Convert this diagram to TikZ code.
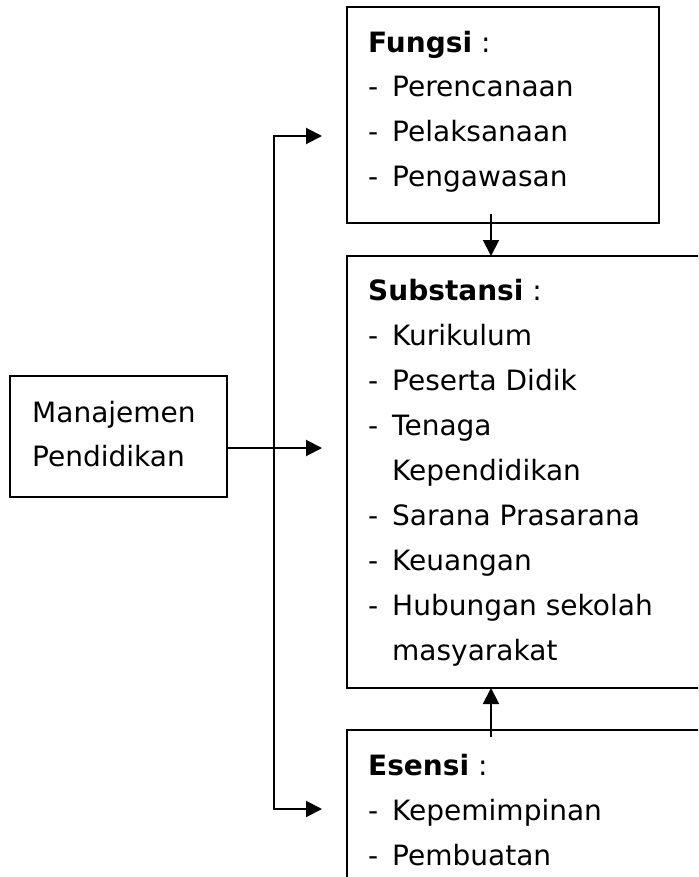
\documentclass[tikz,border=0pt]{standalone}
\usepackage{fontspec}
\setmainfont{DejaVu Sans}
\usetikzlibrary{arrows.meta}
\begin{document}
\begin{tikzpicture}[x=1pt,y=-1pt,
  box/.style={draw, line width=2pt, rectangle, anchor=north west, inner sep=0pt, outer sep=0pt},
  txt/.style={anchor=base west, inner sep=0pt, font=\fontsize{28}{32}\selectfont},
  arr/.style={line width=2pt, -{Triangle[length=16pt,width=16pt]}},
  ln/.style={line width=2pt}]
\useasboundingbox (0,0) rectangle (698,877);
\clip (0,0) rectangle (698,877);
% boxes
\node[box, minimum width=217pt, minimum height=121pt] (man) at (10,376) {};
\node[box, minimum width=312pt, minimum height=216pt] (fungsi) at (347,7) {};
\node[box, minimum width=370pt, minimum height=432pt] (subst) at (347,256) {};
\node[box, minimum width=370pt, minimum height=180pt] (esensi) at (347,730) {};
% Manajemen text
\node[txt] (m1) at (32,422) {Manajemen};
\node[txt] (m2) at (32,466) {Pendidikan};
% Fungsi text
\node[txt] (f0) at (368,53) {\textbf{Fungsi} :};
\foreach \y/\t [count=\i] in {97/Perencanaan,142/Pelaksanaan,187/Pengawasan}{
  \node[txt] (fd\i) at (368,\y) {-};
  \node[txt] (ft\i) at (392,\y) {\t};
}
% Substansi text
\node[txt] (s0) at (368,300) {\textbf{Substansi} :};
\foreach \y/\t [count=\i] in {345/Kurikulum,390/Peserta Didik,435/Tenaga,525/Sarana Prasarana,570/Keuangan,615/Hubungan sekolah}{
  \node[txt] (sd\i) at (368,\y) {-};
  \node[txt] (st\i) at (392,\y) {\t};
}
\node[txt] (sk) at (392,480) {Kependidikan};
\node[txt] (sm) at (392,660) {masyarakat};
% Esensi text
\node[txt] (e0) at (368,775) {\textbf{Esensi} :};
\foreach \y/\t [count=\i] in {820/Kepemimpinan,865/Pembuatan}{
  \node[txt] (ed\i) at (368,\y) {-};
  \node[txt] (et\i) at (392,\y) {\t};
}
% connectors
\coordinate (tTop) at (274,136);
\coordinate (tBot) at (274,809);
\coordinate (fTip) at (322,136);
\coordinate (sTip) at (322,448);
\coordinate (eTip) at (322,809);
\coordinate (mOut) at (227,448);
\coordinate (dStart) at (491,214);
\coordinate (uStart) at (491,737);
\draw[ln] (tTop) -- (tBot);
\draw[arr] (tBot) -- (tTop) -- (fTip);
\draw[arr] (tTop) -- (tBot) -- (eTip);
\draw[arr] (mOut) -- (sTip);
\draw[arr] (dStart) -- (dStart |- subst.north);
\draw[arr] (uStart) -- (uStart |- subst.south);
\end{tikzpicture}
\end{document}
